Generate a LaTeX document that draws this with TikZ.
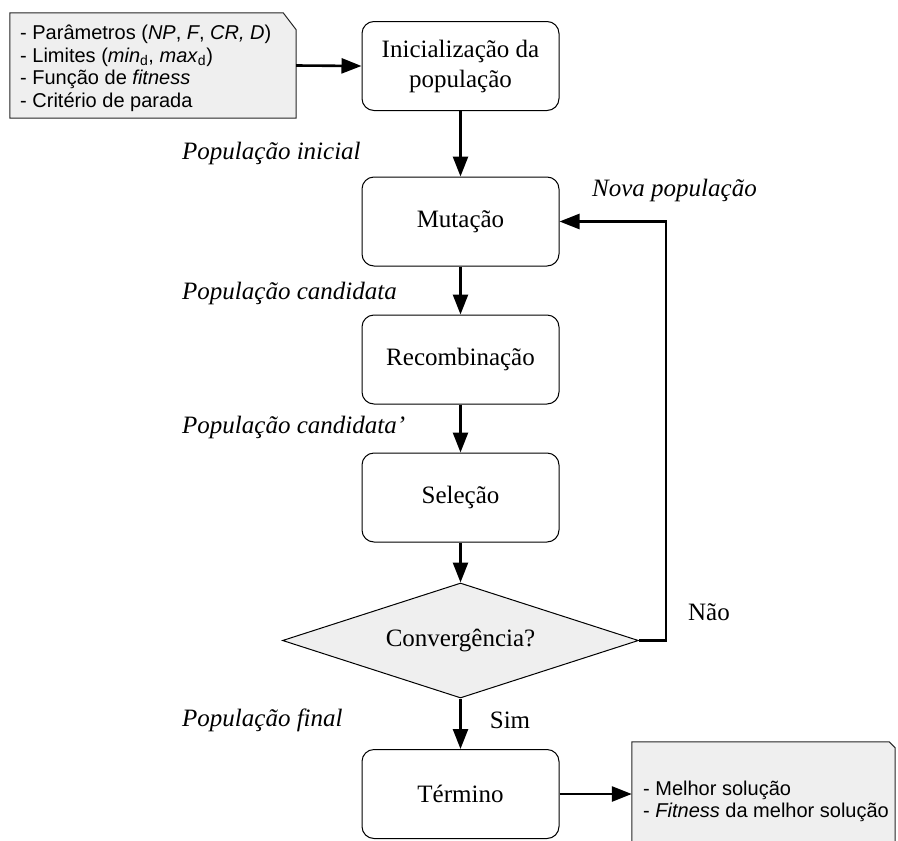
\documentclass[tikz,border=0pt]{standalone}
\usepackage{fontspec}
\setmainfont{Liberation Serif}
\newfontfamily\notefont{Liberation Sans}
\usetikzlibrary{arrows.meta,shapes.geometric,calc}
\definecolor{notegray}{HTML}{EFEFEF}
\tikzset{
  stepbox/.style={draw=black, line width=1pt, rounded corners=12pt, minimum width=197pt, minimum height=89pt, align=center, inner sep=0pt, font=\fontsize{25}{30}\selectfont},
  decbox/.style={draw=black, line width=1pt, fill=notegray, shape=diamond, aspect=3.1, minimum width=356pt, minimum height=115pt, inner sep=0pt, font=\fontsize{25}{30}\selectfont},
  conn/.style={line width=2.6pt, -{Triangle[length=20pt,width=15pt]}},
  noteframe/.style={draw=black!85, line width=1pt},
  notetext/.style={align=left, inner sep=0pt, font=\notefont\fontsize{20}{22.5}\selectfont},
  lbl/.style={inner sep=0pt, font=\fontsize{25}{30}\selectfont\itshape},
  yn/.style={inner sep=0pt, font=\fontsize{25}{30}\selectfont},
  ghost/.style={draw=none, inner sep=0pt, shape=rectangle}
}
\begin{document}
\begin{tikzpicture}[x=1pt,y=-1pt]
\fill[white] (0,0) rectangle (898,841);

% input note
\node[ghost, minimum width=286pt, minimum height=105pt] (in1) at (153,65.5) {};
\filldraw[noteframe, fill=notegray] (in1.north west) -- ($(in1.north east)+(-13,0)$) -- ($(in1.north east)+(0,17)$) -- (in1.south east) -- (in1.south west) -- cycle;
\node[notetext, anchor=west] (in1txt) at (20,68.5) {- Parâmetros (\textit{NP}, \textit{F}, \textit{CR, D})\\- Limites (\textit{min}\textsubscript{d}, \textit{max}\textsubscript{d})\\- Função de \textit{fitness}\\- Critério de parada};

% steps
\node[stepbox] (init) at (460.5,66) {Inicialização da\\população};
\node[stepbox] (mut) at (460.5,221.5) {Mutação};
\node[stepbox] (rec) at (460.5,359.5) {Recombinação};
\node[stepbox] (sel) at (460.5,497.5) {Seleção};
\node[decbox] (dec) at (460.5,640.5) {Convergência?};
\node[stepbox] (end) at (460.5,794) {Término};

% output note (cut by the lower edge)
\node[ghost, minimum width=263pt, minimum height=100pt] (out) at (763.5,792) {};
\fill[notegray] (out.south west) -- (out.north west) -- ($(out.north east)+(-6,0)$) -- ($(out.north east)+(0,6)$) -- (out.south east) -- cycle;
\draw[noteframe] (out.south west) -- (out.north west) -- ($(out.north east)+(-6,0)$) -- ($(out.north east)+(0,6)$) -- (out.south east);
\node[notetext, anchor=west] (outtxt) at (643,801.5) {- Melhor solução\\- \textit{Fitness} da melhor solução};

% connectors
\draw[conn] (in1.east) -- (init.west);
\draw[conn] (init) -- (mut);
\draw[conn] (mut) -- (rec);
\draw[conn] (rec) -- (sel);
\draw[conn] (sel) -- (dec);
\draw[conn] (dec) -- (end);
\draw[conn] (end.east) -- (end.east -| out.west);
\coordinate (loop) at (666,221.5);
\draw[conn] (dec.east) -| (loop) -- (mut.east);

% labels
\node[lbl, anchor=west] (l1) at (182,153) {População inicial};
\node[lbl, anchor=west] (l2) at (182,293) {População candidata};
\node[lbl, anchor=west] (l3) at (182,427) {População candidata’};
\node[lbl, anchor=west] (l4) at (182,720) {População final};
\node[lbl] (l5) at (674.5,190) {Nova população};
\node[yn] (no) at (709,612) {Não};
\node[yn] (yes) at (510,720) {Sim};

\pgfresetboundingbox
\useasboundingbox (0,0) rectangle (898,841);
\end{tikzpicture}
\end{document}
